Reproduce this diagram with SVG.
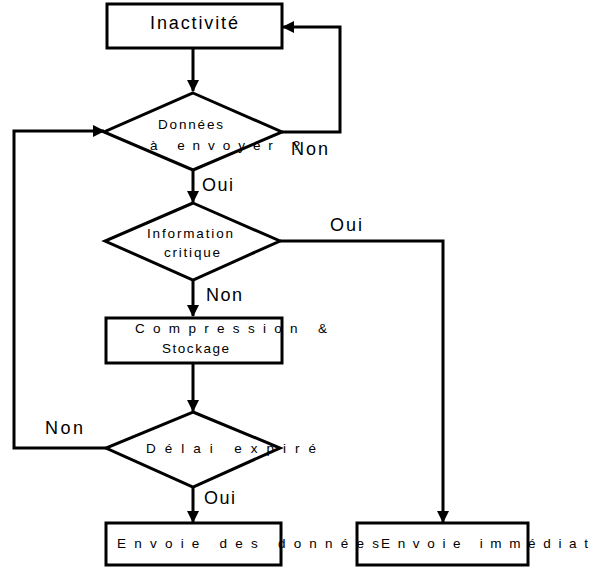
<svg xmlns="http://www.w3.org/2000/svg" width="593" height="569" viewBox="0 0 593 569">
<style>
.box{fill:#fff;stroke:#000;stroke-width:3}
.conn{fill:none;stroke:#000;stroke-width:3}
text{font-family:"Liberation Sans",Arial,sans-serif;fill:#000}
.big{font-size:18px}
.sm{font-size:13.5px}
</style>
<defs>
<marker id="arr" markerUnits="userSpaceOnUse" markerWidth="12" markerHeight="12" viewBox="0 0 12 12" refX="11" refY="6" orient="auto">
<path d="M0,0 L12,6 L0,12 Z" fill="#000"/>
</marker>
</defs>
<rect width="593" height="569" fill="#fff"/>
<g id="connectors">
<path class="conn" d="M193,48 V91" marker-end="url(#arr)"/>
<path class="conn" d="M282,132 H340 V27 H283" marker-end="url(#arr)"/>
<path class="conn" d="M193,170 V202" marker-end="url(#arr)"/>
<path class="conn" d="M280,241 H443 V522" marker-end="url(#arr)"/>
<path class="conn" d="M193,280 V316" marker-end="url(#arr)"/>
<path class="conn" d="M193,363 V411" marker-end="url(#arr)"/>
<path class="conn" d="M106,448 H14 V131 H104" marker-end="url(#arr)"/>
<path class="conn" d="M193,487 V522" marker-end="url(#arr)"/>
</g>
<g id="n-inactivite">
<rect class="box" x="107" y="4" width="175" height="44"/>
<text class="big" x="150" y="29" textLength="88" lengthAdjust="spacing">Inactivité</text>
</g>
<g id="n-donnees">
<polygon class="box" points="193,93 282,132 193,170 104,132"/>
<text class="sm" x="158" y="129" textLength="65" lengthAdjust="spacing">Données</text>
<text class="sm" x="150" y="150" textLength="150" lengthAdjust="spacing">à envoyer ?</text>
</g>
<g id="n-information">
<polygon class="box" points="193,203 280,241 193,280 105,241"/>
<text class="sm" x="147" y="238" textLength="86" lengthAdjust="spacing">Information</text>
<text class="sm" x="164" y="257" textLength="56" lengthAdjust="spacing">critique</text>
</g>
<g id="n-compression">
<rect class="box" x="106" y="318" width="176" height="45"/>
<text class="sm" x="135" y="333" textLength="192" lengthAdjust="spacing">Compression &amp;</text>
<text class="sm" x="162" y="353" textLength="67" lengthAdjust="spacing">Stockage</text>
</g>
<g id="n-delai">
<polygon class="box" points="193,412 280,448 193,487 106,448"/>
<text class="sm" x="146" y="453" textLength="170" lengthAdjust="spacing">Délai expiré</text>
</g>
<g id="n-envoie-immediat">
<rect class="box" x="357" y="523" width="171" height="42"/>
<text class="sm" x="381" y="548" textLength="207" lengthAdjust="spacing">Envoie immédiat</text>
</g>
<g id="n-envoie-donnees">
<rect class="box" x="106" y="523" width="175" height="42"/>
<text class="sm" x="117" y="548" textLength="262" lengthAdjust="spacing">Envoie des données</text>
</g>
<g id="labels">
<text class="big" x="291" y="155" textLength="37" lengthAdjust="spacing">Non</text>
<text class="big" x="202" y="191" textLength="31" lengthAdjust="spacing">Oui</text>
<text class="big" x="330" y="231" textLength="32" lengthAdjust="spacing">Oui</text>
<text class="big" x="206" y="301" textLength="36" lengthAdjust="spacing">Non</text>
<text class="big" x="45" y="434" textLength="38" lengthAdjust="spacing">Non</text>
<text class="big" x="204" y="504" textLength="31" lengthAdjust="spacing">Oui</text>
</g>
</svg>
